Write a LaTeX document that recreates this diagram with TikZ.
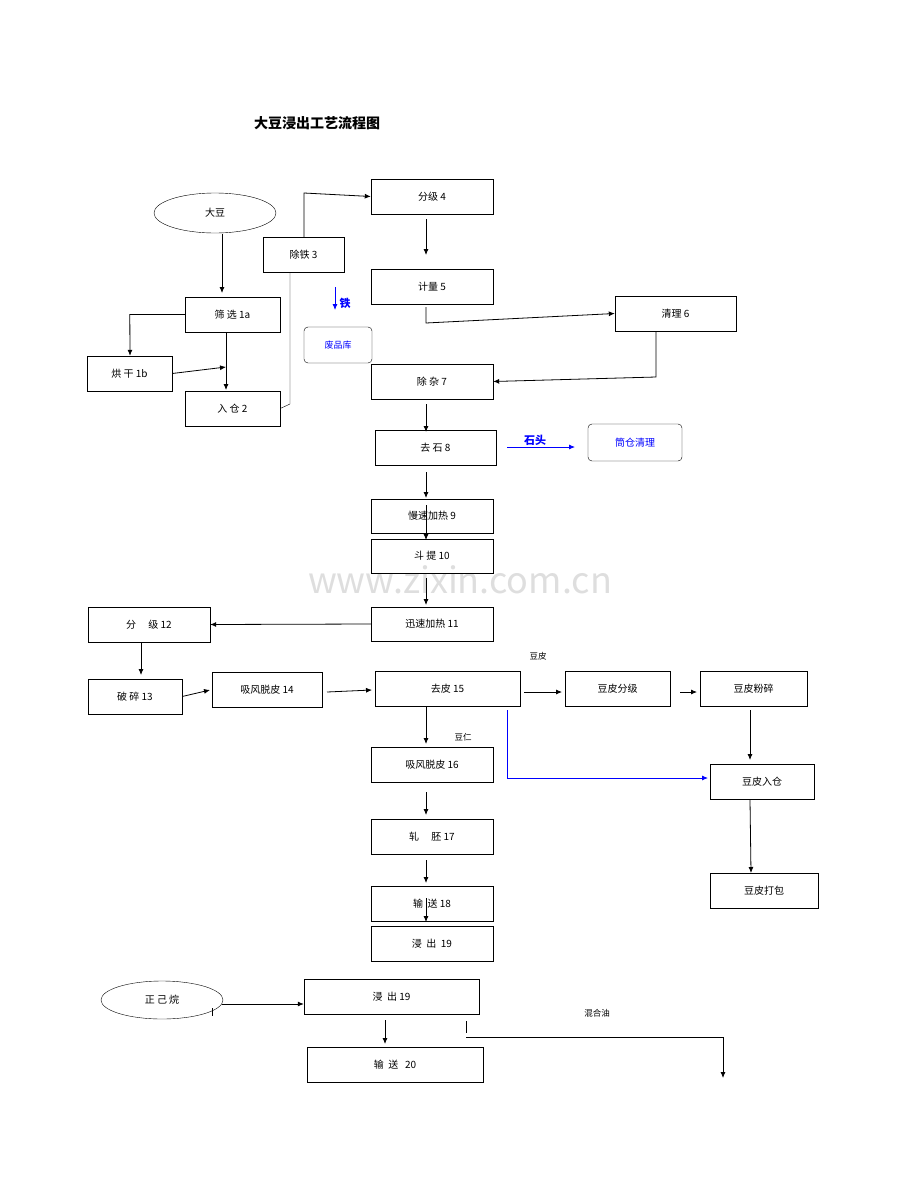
\documentclass[tikz,border=0pt]{standalone}
\usepackage{fontspec}
\setmainfont{Noto Sans CJK SC}
\usetikzlibrary{arrows.meta,calc}
\newcommand{\mybox}[7][box]{\node[#1,minimum width={(#4-#3)*1pt},minimum height={(#6-#5)*1pt}] (#2) at ({(#3+#4)/2},{(#5+#6)/2}) {#7};}
\begin{document}
\begin{tikzpicture}[x=1pt,y=-1pt,
  box/.style={draw,inner sep=0pt,font=\fontsize{10}{12}\selectfont},
  rbox/.style={draw,rounded corners=4pt,inner sep=0pt,text=blue,font=\fontsize{10}{12}\selectfont},
  ell/.style={draw,ellipse,inner sep=0pt,font=\fontsize{10}{12}\selectfont},
  arr/.style={-{Latex[length=6pt,width=5pt]},thick},
  barr/.style={arr,blue},
  lbl/.style={font=\fontsize{8.5}{10}\selectfont,inner sep=0pt}]
\useasboundingbox (0,0) rectangle (920,1191);
\usetikzlibrary{shapes.geometric}
\node[font=\fontsize{14}{16}\selectfont\bfseries] (title) at (317,123) {大豆浸出工艺流程图};
\node[text=black!13,font=\fontsize{36}{40}\selectfont] (wm) at (460,580) {www.zixin.com.cn};
\draw (215,213) ellipse (61 and 20); \node[font=\fontsize{10}{12}\selectfont] (dd) at (215,213) {大豆};
\draw (162,1000) ellipse (61 and 19); \node[font=\fontsize{10}{12}\selectfont] (zj) at (162,1000) {正 己 烷};
\mybox{b3}{263}{344}{237}{272}{除铁 3}
\mybox{b4}{371}{493}{179}{214}{分级 4}
\mybox{b5}{371}{493}{269}{304}{计量 5}
\mybox{b6}{615}{736}{296}{331}{清理 6}
\mybox{b1a}{185}{280}{297}{332}{筛 选 1a}
\mybox{b1b}{87}{172}{356}{391}{烘 干 1b}
\mybox{b2}{185}{280}{391}{426}{入 仓 2}
\mybox[rbox]{fp}{304}{372}{327}{363}{\fontsize{9}{11}\selectfont 废品库}
\mybox{b7}{371}{493}{364}{399}{除 杂 7}
\mybox{b8}{375}{496}{430}{465}{去 石 8}
\mybox[rbox]{tc}{588}{682}{424}{461}{筒仓清理}
\mybox{b9}{371}{493}{499}{533}{慢速加热 9}
\mybox{b10}{371}{493}{539}{573}{斗 提 10}
\mybox{b11}{371}{493}{607}{641}{迅速加热 11}
\mybox{b12}{88}{210}{607}{642}{分 \quad 级 12}
\mybox{b13}{88}{182}{679}{714}{破 碎 13}
\mybox{b14}{212}{322}{672}{707}{吸风脱皮 14}
\mybox{b15}{375}{520}{671}{706}{去皮 15}
\mybox{dpf}{565}{670}{671}{706}{豆皮分级}
\mybox{dpz}{700}{807}{671}{706}{豆皮粉碎}
\mybox{b16}{371}{493}{747}{782}{吸风脱皮 16}
\mybox{dpr}{710}{814}{764}{799}{豆皮入仓}
\mybox{b17}{371}{493}{819}{854}{轧 \quad 胚 17}
\mybox{dpb}{710}{818}{873}{908}{豆皮打包}
\mybox{b18}{371}{493}{886}{921}{输 \ 送 18}
\mybox{b19}{371}{493}{926}{961}{浸 \ 出 \ 19}
\mybox{c19}{304}{479}{979}{1014}{浸 \ 出 19}
\mybox{b20}{307}{483}{1047}{1082}{输 \ 送 \ \ 20}
\node[lbl,text=blue,font=\fontsize{11}{12}\selectfont\bfseries] (tie) at (345,303) {铁};
\node[lbl,text=blue,font=\fontsize{11}{12}\selectfont\bfseries] (st) at (535,440) {石头};
\node[lbl] (dp) at (538,656) {豆皮};
\node[lbl] (dr) at (463,737) {豆仁};
\node[lbl] (hhy) at (597,1013) {混合油};
\coordinate (mix) at (723,1078);
% connectors
\draw[arr] (222,234) -- (222,293);
\draw[arr] (b1a.west) -- ++(-55,0) -- (b1b.north -| 130,0);
\draw[arr] (226,332) -- (226,390);
\draw[arr] (b1b.east) -- (226,367);
\draw (b2.east) -- (290,404) -- (290,272);
\draw[arr] (304,237) -- (304,193) -- (b4.west);
\draw[arr] (426,219) -- (426,255);
\draw[arr] (426,307) -- (426,323) -- (b6.west);
\draw[arr] (656,331) -- (656,377) -- (b7.east);
\draw[barr] (335,287) -- (335,310);
\draw[arr] (426,404) -- (426,432);
\draw[barr] (507,447) -- (575,447);
\draw[arr] (426,472) -- (426,498);
\draw[arr] (426,505) -- (426,540);
\draw[arr] (426,578) -- (426,605);
\draw[arr] (b11.west) -- (b12.east);
\draw[arr] (141,643) -- (141,675);
\draw[arr] (b13.east) -- (210,690);
\draw[arr] (327,692) -- (372,690);
\draw[arr] (524,692) -- (562,692);
\draw[arr] (680,692) -- (697,692);
\draw[arr] (426,707) -- (426,744);
\draw[blue,thick] (507,710) -- (507,778);
\draw[barr] (507,778) -- (708,778);
\draw[arr] (750,710) -- (750,760);
\draw[arr] (750,800) -- (751,873);
\draw[arr] (426,792) -- (426,815);
\draw[arr] (426,860) -- (426,883);
\draw[arr] (426,898) -- (426,922);
\draw[arr] (222,1004) -- (c19.west |- 0,1004);
\draw (212,1008) -- (212,1016);
\draw[arr] (385,1020) -- (385,1044);
\draw (466,1021) -- (466,1033);
\draw[arr] (466,1037) -- (723,1037) -- (mix);
\end{tikzpicture}
\end{document}
